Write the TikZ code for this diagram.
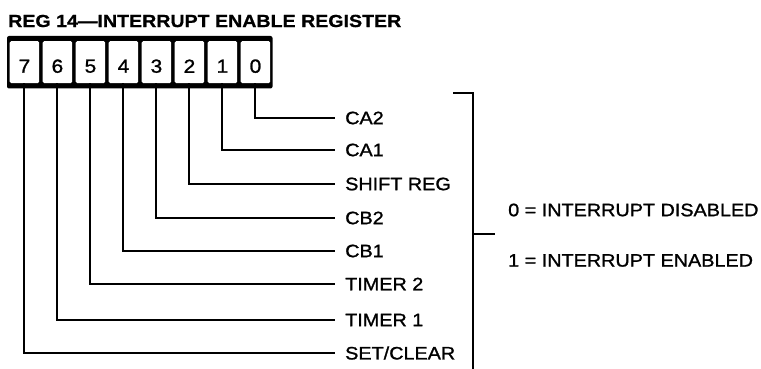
\documentclass[tikz,border=0pt]{standalone}
\usepackage{fontspec}
\setmainfont{Liberation Sans}
\newfontfamily\labfont[FakeStretch=1.1,FakeBold=1.2]{Liberation Sans}
\newfontfamily\ttlfont[FakeStretch=1.12,FakeBold=0.8]{Liberation Sans}
\begin{document}
\begin{tikzpicture}[x=1pt,y=-1pt,
  cellbox/.style={draw=none,fill=white,rounded corners=1.5pt,minimum width=29.5pt,minimum height=42pt,inner sep=0pt,anchor=north west},
  digit/.style={font=\labfont\fontsize{19}{19}\selectfont,inner sep=0pt},
  lab/.style={font=\labfont\fontsize{18}{18}\selectfont,inner sep=0pt,anchor=west},
  lead/.style={line width=2pt,shorten >=10pt},
  brk/.style={line width=2pt}]
\useasboundingbox (0,0) rectangle (761,369);
\node[anchor=west,inner sep=0pt,font=\ttlfont\bfseries\fontsize{17.5}{17.5}\selectfont] (title) at (8,21) {REG 14—INTERRUPT ENABLE REGISTER};
\fill[rounded corners=2pt] (7,36) rectangle (272.5,88.5);
\foreach \b/\i in {7/0,6/1,5/2,4/3,3/4,2/5,1/6,0/7}{
  \node[cellbox] (c\b) at ({9.5+33*\i},41) {};
  \node[digit] (d\b) at ([yshift=-4pt]c\b.center) {\b};
}
\foreach \b/\y/\t in {0/118/CA2,1/150/CA1,2/184/SHIFT REG,3/218/CB2,4/251/CB1,5/284/TIMER 2,6/320/TIMER 1,7/353/{SET/CLEAR}}{
  \node[lab] (l\b) at (345,\y) {\t};
  \draw[lead] (c\b.south) |- (l\b.west);
}
\coordinate (btl) at (453,93);
\coordinate (btr) at (472.5,93);
\coordinate (bbot) at (472.5,370);
\coordinate (bmid) at (472.5,234);
\coordinate (bout) at (495,234);
\draw[brk] (btl) -- (btr) -- (bbot);
\draw[brk] (bmid) -- (bout);
\node[lab] (dis) at (508,210) {0 = INTERRUPT DISABLED};
\node[lab] (ena) at (508,260.5) {1 = INTERRUPT ENABLED};
\end{tikzpicture}
\end{document}
